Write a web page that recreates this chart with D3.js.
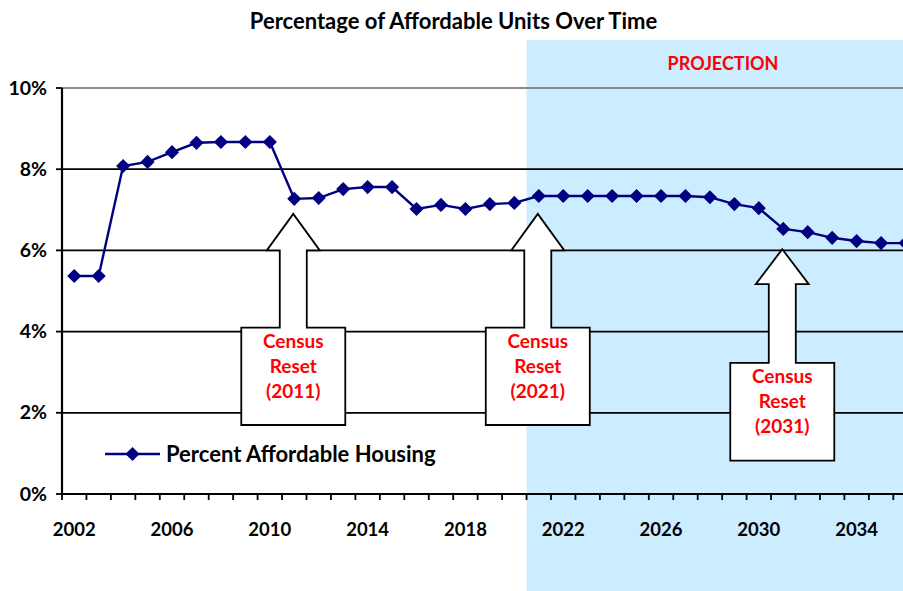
<!DOCTYPE html>
<html>
<head>
<meta charset="utf-8">
<script src="https://cdn.jsdelivr.net/npm/d3@7"></script>
<style>
  body { margin: 0; background: #fff; }
  svg { display: block; font-family: Lato, "Open Sans", sans-serif; }
</style>
</head>
<body>
<svg id="chart" width="903" height="591"></svg>
<script>
// data
const years = d3.range(2002, 2037);
const affordable = [
  5.37, 5.37, 8.08, 8.18, 8.42, 8.65, 8.67, 8.67, 8.67, 7.27,
  7.29, 7.51, 7.56, 7.56, 7.02, 7.12, 7.02, 7.14, 7.17, 7.34,
  7.34, 7.34, 7.34, 7.34, 7.34, 7.34, 7.31, 7.14, 7.04, 6.53,
  6.45, 6.31, 6.23, 6.18, 6.18,
];
const yTicks = [0, 2, 4, 6, 8, 10];
const xLabelYears = [2002, 2006, 2010, 2014, 2018, 2022, 2026, 2030, 2034];
const projectionStart = 2021;
const censusResets = [
  { year: 2011, tip: 6.9, base: 6.0, boxTop: 4.1, boxBottom: 1.7 },
  { year: 2021, tip: 6.9, base: 6.0, boxTop: 4.1, boxBottom: 1.7 },
  { year: 2031, tip: 6.03, base: 5.17, boxTop: 3.23, boxBottom: 0.82 },
];

const width = 903;
const height = 591;
const margin = { top: 88, left: 62, bottom: 97 };
const step = 24.45;

const svg = d3.select("#chart");

const x = d3
  .scaleBand()
  .domain(years)
  .range([margin.left, margin.left + years.length * step])
  .padding(0);

const y = d3
  .scaleLinear()
  .domain([0, 10])
  .range([height - margin.bottom, margin.top]);

const cx = (yr) => x(yr) + x.bandwidth() / 2;

// projection shading
svg
  .append("rect")
  .attr("x", x(projectionStart))
  .attr("y", 40)
  .attr("width", width - x(projectionStart))
  .attr("height", height - 40)
  .attr("fill", "#CCECFF");

svg
  .append("text")
  .attr("x", 723)
  .attr("y", 70)
  .attr("text-anchor", "middle")
  .attr("font-size", "18px")
  .attr("font-weight", "bold")
  .attr("fill", "#FF0000")
  .text("PROJECTION");

// title
svg
  .append("text")
  .attr("x", 453.5)
  .attr("y", 29)
  .attr("text-anchor", "middle")
  .attr("font-size", "22px")
  .attr("font-weight", "bold")
  .text("Percentage of Affordable Units Over Time");

// grid lines
svg
  .selectAll(".grid")
  .data(yTicks.filter((d) => d > 0))
  .enter()
  .append("line")
  .attr("x1", margin.left)
  .attr("x2", width)
  .attr("y1", (d) => y(d))
  .attr("y2", (d) => y(d))
  .attr("stroke", (d) => (d === 10 ? "#8c8c8c" : "#000"))
  .attr("stroke-width", (d) => (d === 10 ? 2.2 : 1.8));

// y axis
svg
  .append("line")
  .attr("x1", margin.left)
  .attr("x2", margin.left)
  .attr("y1", y(10))
  .attr("y2", y(0))
  .attr("stroke", "#000")
  .attr("stroke-width", 2.2);

svg
  .selectAll(".ytick")
  .data(yTicks)
  .enter()
  .append("line")
  .attr("x1", margin.left - 6)
  .attr("x2", margin.left)
  .attr("y1", (d) => y(d))
  .attr("y2", (d) => y(d))
  .attr("stroke", "#000")
  .attr("stroke-width", 1.8);

svg
  .selectAll(".ylabel")
  .data(yTicks)
  .enter()
  .append("text")
  .attr("x", 47)
  .attr("y", (d) => y(d) + 6.5)
  .attr("text-anchor", "end")
  .attr("font-size", "19.5px")
  .attr("font-weight", "bold")
  .text((d) => `${d}%`);

// x axis
svg
  .append("line")
  .attr("x1", margin.left)
  .attr("x2", width)
  .attr("y1", y(0))
  .attr("y2", y(0))
  .attr("stroke", "#000")
  .attr("stroke-width", 2.2);

svg
  .selectAll(".xtick")
  .data(years)
  .enter()
  .append("line")
  .attr("x1", (d) => x(d))
  .attr("x2", (d) => x(d))
  .attr("y1", y(0))
  .attr("y2", y(0) + 6)
  .attr("stroke", "#000")
  .attr("stroke-width", 1.8);

svg
  .selectAll(".xlabel")
  .data(xLabelYears)
  .enter()
  .append("text")
  .attr("x", (d) => cx(d))
  .attr("y", 536)
  .attr("text-anchor", "middle")
  .attr("font-size", "18.5px")
  .attr("font-weight", "bold")
  .text((d) => d);

// census reset callouts
const shaftHalf = 13.5;
const headHalf = 26.5;
const boxHalf = 52;

censusResets.forEach((c) => {
  const mx = cx(c.year) - 1;
  const tipY = y(c.tip);
  const baseY = y(c.base);
  const boxTop = y(c.boxTop);
  const boxBottom = y(c.boxBottom);
  const pts = [
    [mx, tipY],
    [mx + headHalf, baseY],
    [mx + shaftHalf, baseY],
    [mx + shaftHalf, boxTop],
    [mx + boxHalf, boxTop],
    [mx + boxHalf, boxBottom],
    [mx - boxHalf, boxBottom],
    [mx - boxHalf, boxTop],
    [mx - shaftHalf, boxTop],
    [mx - shaftHalf, baseY],
    [mx - headHalf, baseY],
  ];
  svg
    .append("path")
    .attr("d", d3.line()(pts) + "Z")
    .attr("fill", "#fff")
    .attr("stroke", "#000")
    .attr("stroke-width", 1.8)
    .attr("stroke-linejoin", "miter");

  const label = svg
    .append("text")
    .attr("x", mx)
    .attr("text-anchor", "middle")
    .attr("font-size", "19px")
    .attr("font-weight", "bold")
    .attr("fill", "#FF0000");
  ["Census", "Reset", `(${c.year})`].forEach((t, i) => {
    label
      .append("tspan")
      .attr("x", mx)
      .attr("y", boxTop + 20.5 + i * 25)
      .text(t);
  });
});

// series
const navy = "#000080";
const diamond = d3.symbol(d3.symbolSquare, 100);

svg
  .append("path")
  .datum(affordable)
  .attr("fill", "none")
  .attr("stroke", navy)
  .attr("stroke-width", 2.4)
  .attr(
    "d",
    d3
      .line()
      .x((d, i) => cx(years[i]))
      .y((d) => y(d)),
  );

svg
  .selectAll(".pt")
  .data(affordable)
  .enter()
  .append("path")
  .attr("d", diamond)
  .attr("fill", navy)
  .attr("transform", (d, i) => `translate(${cx(years[i])},${y(d)}) rotate(45)`);

// legend
const legend = svg.append("g").attr("transform", "translate(105,454)");

legend
  .append("line")
  .attr("x1", 0)
  .attr("x2", 55)
  .attr("stroke", navy)
  .attr("stroke-width", 2.4);

legend
  .append("path")
  .attr("d", diamond)
  .attr("fill", navy)
  .attr("transform", "translate(27.5,0) rotate(45)");

legend
  .append("text")
  .attr("x", 61)
  .attr("y", 8)
  .attr("font-size", "22px")
  .attr("font-weight", "bold")
  .text("Percent Affordable Housing");
</script>
</body>
</html>
